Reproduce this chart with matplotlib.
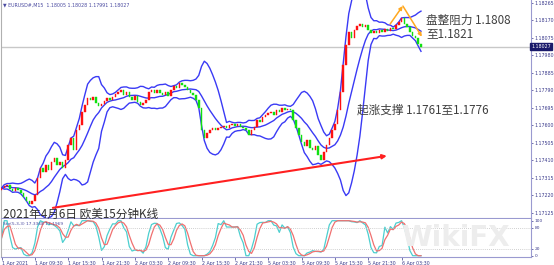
import numpy as np
import pandas as pd
import matplotlib
matplotlib.use('Agg')
import matplotlib.pyplot as plt
import matplotlib.transforms as mtransforms

# ---------------- data (30-minute steps) ----------------
closes = [
    1.17261, 1.17272, 1.17277, 1.17256, 1.17245, 1.17261, 1.17250, 1.17234, 1.17212, 1.17191,
    1.17174, 1.17191, 1.17223, 1.17315, 1.17369, 1.17348, 1.17386, 1.17359, 1.17402, 1.17424,
    1.17386, 1.17402, 1.17369, 1.17413, 1.17494, 1.17532, 1.17467, 1.17575, 1.17603, 1.17673,
    1.17711, 1.17749, 1.17738, 1.17754, 1.17722, 1.17706, 1.17716, 1.17733, 1.17749, 1.17738,
    1.17754, 1.17771, 1.17781, 1.17792, 1.17765, 1.17781, 1.17754, 1.17738, 1.17760, 1.17727,
    1.17711, 1.17722, 1.17738, 1.17781, 1.17792, 1.17776, 1.17792, 1.17776, 1.17765, 1.17781,
    1.17760, 1.17792, 1.17814, 1.17803, 1.17830, 1.17819, 1.17808, 1.17792, 1.17776, 1.17765,
    1.17738, 1.17695, 1.17575, 1.17532, 1.17559, 1.17575, 1.17586, 1.17575, 1.17586, 1.17592,
    1.17597, 1.17586, 1.17603, 1.17608, 1.17597, 1.17608, 1.17592, 1.17586, 1.17575, 1.17548,
    1.17575, 1.17592, 1.17630, 1.17619, 1.17646, 1.17657, 1.17668, 1.17673, 1.17657, 1.17684,
    1.17673, 1.17695, 1.17684, 1.17689, 1.17684, 1.17630, 1.17586, 1.17548, 1.17510, 1.17489,
    1.17521, 1.17478, 1.17467, 1.17489, 1.17440, 1.17413, 1.17456, 1.17494, 1.17532, 1.17575,
    1.17608, 1.17684, 1.17781, 1.17928, 1.18036, 1.18107, 1.18074, 1.18117, 1.18139, 1.18150,
    1.18134, 1.18144, 1.18117, 1.18101, 1.18112, 1.18101, 1.18117, 1.18107, 1.18123, 1.18112,
    1.18128, 1.18123, 1.18144, 1.18161, 1.18182, 1.18150, 1.18134, 1.18107, 1.18085, 1.18074,
    1.18042, 1.18027,
]
first_open = 1.17250

time_tick_pos = [0, 12, 24, 36, 48, 60, 72, 84, 96, 108, 120, 132, 144]
time_tick_labels = ["1 Apr 2021", "1 Apr 09:30", "1 Apr 15:30", "1 Apr 21:30",
                    "2 Apr 03:30", "2 Apr 09:30", "2 Apr 15:30", "2 Apr 21:30",
                    "5 Apr 03:30", "5 Apr 09:30", "5 Apr 15:30", "5 Apr 21:30",
                    "6 Apr 03:30"]
price_ticks = [1.18265, 1.18170, 1.18075, 1.17980, 1.17885, 1.17790, 1.17695,
               1.17600, 1.17505, 1.17410, 1.17315, 1.17220, 1.17125]
last_price = 1.18027

trend_x = [18.5, 138.7]
trend_y = [1.17153, 1.17435]
swing_up_x = [139.9, 144.4]
swing_up_y = [1.18150, 1.18247]
swing_dn_x = [144.5, 151.3]
swing_dn_y = [1.18247, 1.18081]

stoch_levels = [20, 80]

# ---------------- figure ----------------
W, H = 554, 265
fig = plt.figure(figsize=(W / 100, H / 100), dpi=100)
fig.patch.set_facecolor('white')

ax = fig.add_axes([1 / W, (H - 218) / H, 530 / W, 218 / H])
ax2 = fig.add_axes([1 / W, (H - 257) / H, 530 / W, 38 / H])

frame_col = '#9A9AD0'
label_col = '#3A3A8C'
for a in (ax, ax2):
    for sp in a.spines.values():
        sp.set_color(frame_col)
        sp.set_linewidth(0.8)
    a.spines['top'].set_visible(False)
    a.spines['left'].set_color('#B0B0B0')

c = np.array(closes)
o = np.concatenate([[first_open], c[:-1]])
idx = np.arange(len(c))
up = c >= o

# Bollinger bands (20 x 15min ~ 10 x 30min); slightly wider deviation for the coarser bars
s = pd.Series(c)
mid = s.rolling(10, min_periods=1).mean()
sd = s.rolling(10, min_periods=1).std(ddof=0)
upper = mid + 2.2 * sd
lower = mid - 2.2 * sd
band_col = '#3A3AF5'
ax.plot(idx, upper, color=band_col, lw=1.0, zorder=3)
ax.plot(idx, lower, color=band_col, lw=1.0, zorder=3)
ax.plot(idx, mid, color=band_col, lw=1.0, zorder=3)

# candles
h = c - o
ax.bar(idx[up], h[up], bottom=o[up], width=0.55, color='#FF1010', edgecolor='#FF1010', lw=0.3, zorder=4)
ax.bar(idx[~up], h[~up], bottom=o[~up], width=0.55, color='#10E010', edgecolor='#10E010', lw=0.3, zorder=4)

# current price line
ax.axhline(last_price, color='#C8C8C8', lw=1.0, zorder=1)

# trend arrow (red)
ax.annotate('', xy=(trend_x[1], trend_y[1]), xytext=(trend_x[0], trend_y[0]),
            arrowprops=dict(arrowstyle='-|>', color='#FF2020', lw=1.5, mutation_scale=6,
                            shrinkA=0, shrinkB=0), zorder=5)
# orange swing arrows
for xs, ys in ((swing_up_x, swing_up_y), (swing_dn_x, swing_dn_y)):
    ax.annotate('', xy=(xs[1], ys[1]), xytext=(xs[0], ys[0]),
                arrowprops=dict(arrowstyle='-|>', color='#FFA820', lw=1.1, mutation_scale=5,
                                shrinkA=0, shrinkB=0), zorder=5)

ax.set_xlim(-0.18, 190.6)
ax.set_ylim(1.17098, 1.18280)
ax.yaxis.tick_right()
ax.set_yticks(price_ticks)
ax.set_yticklabels([f"{p:.5f}" for p in price_ticks])
ax.tick_params(axis='y', labelsize=3.4, colors=label_col, length=1.5, width=0.5, pad=1)
ax.set_xticks([])

# price box on axis
trans = mtransforms.blended_transform_factory(ax.transAxes, ax.transData)
ax.text(1.001, last_price, f"{last_price:.5f}", transform=trans, fontsize=3.4, color='white',
        va='center', ha='left', clip_on=False, zorder=10,
        bbox=dict(boxstyle='square,pad=0.25', fc='#1A1A6A', ec='#1A1A6A'))

# header
ax.text(0.004, 0.978, "\u25BC EURUSD#,M15  1.18005 1.18028 1.17991 1.18027", transform=ax.transAxes,
        fontsize=3.4, color='#4A4AA0', va='center', ha='left')

# ---------------- stochastic (5,3,3) ----------------
ll = s.rolling(5, min_periods=1).min()
hh = s.rolling(5, min_periods=1).max()
num = (s - ll).rolling(3, min_periods=1).sum()
den = (hh - ll).rolling(3, min_periods=1).sum().replace(0, np.nan)
k = (100 * num / den).fillna(50)
d = k.rolling(3, min_periods=1).mean()
ax2.plot(idx, k, color='#4CCFCF', lw=0.9)
ax2.plot(idx, d, color='#F07070', lw=0.9)
for lv in stoch_levels:
    ax2.axhline(lv, color='#C0C0C0', lw=0.6, ls=(0, (1, 1.5)))
ax2.set_xlim(-0.18, 190.6)
ax2.set_ylim(-3.7, 104.9)
ax2.yaxis.tick_right()
ax2.set_yticks([0, 20, 80, 100])
ax2.set_yticklabels(['0', '20', '80', '100'])
ax2.tick_params(axis='y', labelsize=3.2, colors=label_col, length=1.5, width=0.5, pad=1)
ax2.set_xticks(time_tick_pos)
ax2.set_xticklabels(time_tick_labels, ha='left')
ax2.tick_params(axis='x', labelsize=3.4, colors=label_col, length=2, width=0.5, pad=1)
ax2.text(0.004, 0.86, "Sto(5,3,3) 17.3368 17.1969", transform=ax2.transAxes,
         fontsize=3.2, color='#4A4AA0', va='center', ha='left')

# watermark
fig.text(455 / W, 1 - 238 / H, "WikiFX", fontsize=20, fontweight='bold', color='#EDEDED',
         ha='center', va='center', zorder=0)

# ---------------- annotations ----------------
cjk = ['Noto Sans CJK SC', 'DejaVu Sans']
fig.text(426.5 / W, 1 - 20 / H, "盘整阻力 1.1808", family=cjk, fontsize=8.4, color='#404040',
         ha='left', va='center')
fig.text(426.5 / W, 1 - 34 / H, "至1.1821", family=cjk, fontsize=8.4, color='#404040',
         ha='left', va='center')
fig.text(357.3 / W, 1 - 110 / H, "起涨支撑 1.1761至1.1776", family=cjk, fontsize=8.4, color='#404040',
         ha='left', va='center')
fig.text(2.7 / W, 1 - 214 / H, "2021年4月6日 欧美15分钟K线", family=cjk, fontsize=8.4, color='#303030',
         ha='left', va='center')

fig.savefig('out.png', dpi=100)
